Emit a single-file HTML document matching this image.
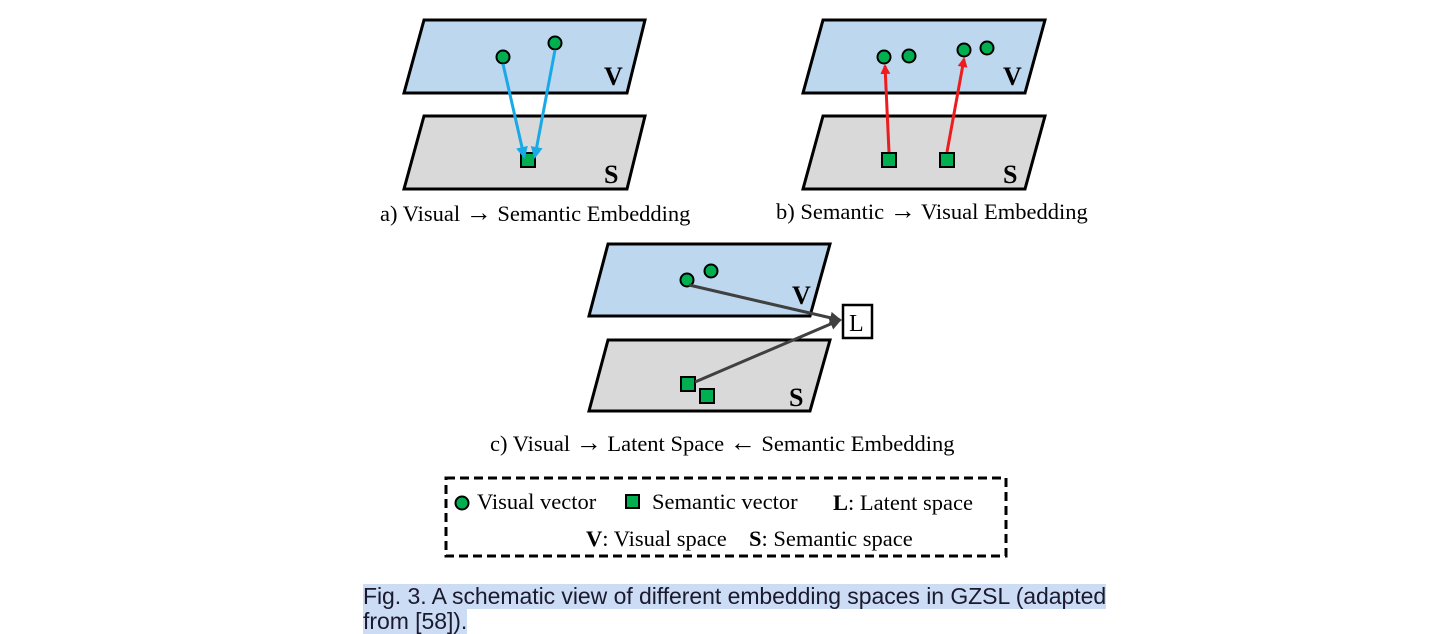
<!DOCTYPE html>
<html><head><meta charset="utf-8"><style>
body{margin:0;background:#fff;width:1450px;height:634px;overflow:hidden;position:relative}
svg{position:absolute;left:0;top:0}
.cap{position:absolute;left:363px;font-family:"Liberation Sans",sans-serif;font-size:23px;color:#1a1a2e;background:#cddcf5;line-height:25px;letter-spacing:-0.05px}
</style></head><body>
<svg width="1450" height="634" font-family="Liberation Serif, serif">
<defs>
<marker id="mb" markerWidth="12" markerHeight="12" refX="9" refY="6" orient="auto" markerUnits="userSpaceOnUse"><path d="M0,0 L12,6 L0,12 z" fill="#19a9e6"/></marker>
<marker id="mr" markerWidth="10" markerHeight="10" refX="8" refY="5" orient="auto" markerUnits="userSpaceOnUse"><path d="M0,0 L10,5 L0,10 z" fill="#ee1c1c"/></marker>
<marker id="mg" markerWidth="12" markerHeight="12" refX="10" refY="6" orient="auto" markerUnits="userSpaceOnUse"><path d="M0,0 L12,6 L0,12 z" fill="#404040"/></marker>
</defs>
<g stroke="#000" stroke-width="3">
<polygon points="424,20 645,20 627,93 404,93" fill="#bdd7ee"/>
<polygon points="424,116 645,116 627,189 404,189" fill="#d9d9d9"/>
<polygon points="823,20 1045,20 1025,93 803,93" fill="#bdd7ee"/>
<polygon points="823,116 1045,116 1025,189 803,189" fill="#d9d9d9"/>
<polygon points="608,244 830,244 810,316 589,316" fill="#bdd7ee"/>
<polygon points="608,340 830,340 810,411 589,411" fill="#d9d9d9"/>
</g>
<g font-weight="bold" font-size="26">
<text x="604" y="85">V</text><text x="604" y="183">S</text>
<text x="1003" y="85">V</text><text x="1003" y="183">S</text>
<text x="792" y="304">V</text><text x="789" y="406">S</text>
</g>
<g fill="#00b050" stroke="#000" stroke-width="2">
<circle cx="503" cy="57" r="6.5"/><circle cx="555" cy="43" r="6.5"/>
<rect x="521" y="153" width="14" height="14"/>
<circle cx="884" cy="57" r="6.5"/><circle cx="909" cy="56" r="6.5"/>
<circle cx="964" cy="50" r="6.5"/><circle cx="987" cy="48" r="6.5"/>
<rect x="882" y="153" width="14" height="14"/><rect x="940" y="153" width="14" height="14"/>
<circle cx="687" cy="280" r="6.5"/><circle cx="711" cy="271" r="6.5"/>
<rect x="681" y="377" width="14" height="14"/><rect x="700" y="389" width="14" height="14"/>
</g>
<g stroke-width="3" fill="none">
<line x1="503" y1="64" x2="524" y2="156" stroke="#19a9e6" marker-end="url(#mb)"/>
<line x1="555" y1="50" x2="535" y2="156" stroke="#19a9e6" marker-end="url(#mb)"/>
<line x1="889" y1="152" x2="885" y2="66" stroke="#ee1c1c" marker-end="url(#mr)"/>
<line x1="947" y1="152" x2="964" y2="59" stroke="#ee1c1c" marker-end="url(#mr)"/>
<line x1="689" y1="285" x2="840" y2="320" stroke="#404040" marker-end="url(#mg)"/>
<line x1="695" y1="382" x2="840" y2="320" stroke="#404040" marker-end="url(#mg)"/>
</g>
<rect x="843" y="305" width="29" height="33" fill="#fff" stroke="#000" stroke-width="2.5"/>
<text x="849" y="331" font-size="24">L</text>
<g font-size="22.5">
<text x="380" y="221">a) Visual <tspan font-size="26">→</tspan> Semantic Embedding</text>
<text x="776" y="219">b) Semantic <tspan font-size="26">→</tspan> Visual Embedding</text>
<text x="490" y="451">c) Visual <tspan font-size="26">→</tspan> Latent Space <tspan font-size="26">←</tspan> Semantic Embedding</text>
</g>
<rect x="446" y="478" width="560" height="78" fill="none" stroke="#000" stroke-width="3" stroke-dasharray="9,5"/>
<circle cx="462" cy="503" r="6.5" fill="#00b050" stroke="#000" stroke-width="2"/>
<rect x="626" y="495" width="13" height="13" fill="#00b050" stroke="#000" stroke-width="2"/>
<g font-size="22.5">
<text x="477" y="509">Visual vector</text>
<text x="652" y="509">Semantic vector</text>
<text x="833" y="510"><tspan font-weight="bold">L</tspan>: Latent space</text>
<text x="586" y="546"><tspan font-weight="bold">V</tspan>: Visual space</text>
<text x="749" y="546"><tspan font-weight="bold">S</tspan>: Semantic space</text>
</g>
</svg>
<div class="cap" style="top:584px">Fig. 3. A schematic view of different embedding spaces in GZSL (adapted</div>
<div class="cap" style="top:609px">from [58]).</div>
</body></html>
